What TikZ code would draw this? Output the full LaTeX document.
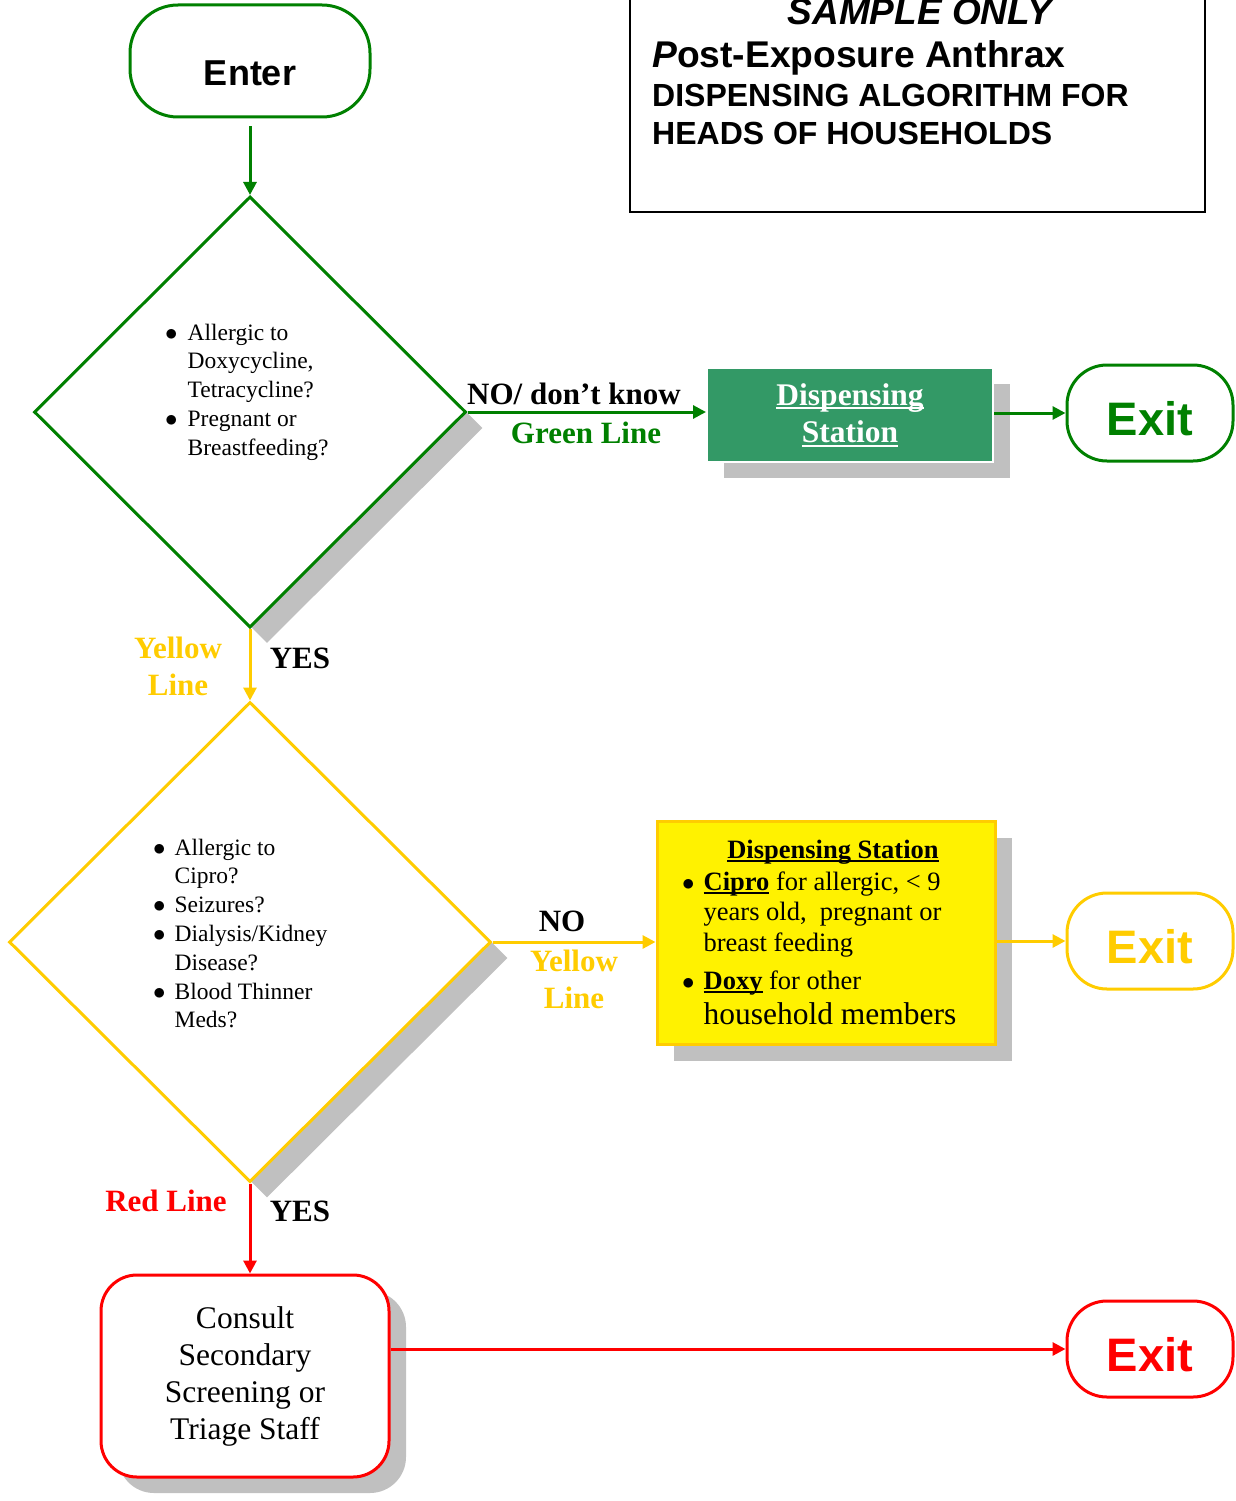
\documentclass[tikz,border=0pt]{standalone}
\usepackage{fontspec}
\setmainfont{Liberation Serif}
\setsansfont{Liberation Sans}
\usetikzlibrary{shapes.geometric,shadows,arrows.meta}

\definecolor{flowgreen}{RGB}{0,128,0}
\definecolor{flowyellow}{RGB}{255,204,0}
\definecolor{flowred}{RGB}{255,0,0}
\definecolor{stationgreen}{RGB}{51,153,102}
\definecolor{shadowgray}{RGB}{192,192,192}

% thick underline, big bullet
\newcommand{\thickul}[1]{\leavevmode\setbox0\hbox{#1}\rlap{\rule[-4pt]{\wd0}{2pt}}\box0\relax}
\newcommand{\bigbul}{$\bullet$}

\tikzset{
  greyshadow/.style={drop shadow={shadow xshift=17pt, shadow yshift=-16pt, fill=shadowgray, opacity=1}},
  flow/.style={line width=3pt, -{Triangle[length=13pt,width=13pt]}},
  question/.style={diamond, draw, line width=3pt, fill=white, inner sep=0pt, greyshadow},
  startbox/.style={draw=flowgreen, line width=3pt, fill=white, rounded corners=48pt,
    minimum width=240pt, minimum height=112pt, text height=50pt, text depth=0pt,
    font=\sffamily\bfseries\fontsize{36}{40}\selectfont},
  exitbox/.style={draw, line width=3pt, fill=white, rounded corners=40pt,
    minimum width=166pt, minimum height=96pt, text height=44pt, text depth=0pt,
    font=\sffamily\bfseries\fontsize{47}{50}\selectfont},
  qtext/.style={inner sep=0pt, anchor=base west, font=\fontsize{23.5}{28.8}\selectfont},
  lbl/.style={inner sep=0pt, align=center, font=\fontsize{31}{37}\selectfont\bfseries},
  titletext/.style={inner sep=0pt, anchor=base west, font=\sffamily\bfseries}
}

\begin{document}
\begin{tikzpicture}[x=1pt,y=-1pt]
\useasboundingbox (0,0) rectangle (1235,1501);

% title
\draw[line width=1.5pt] (630,-10) -- (630,212) -- (1205,212) -- (1205,-10);
\draw[line width=2.5pt] (630,212) -- (1205,212);
\node[titletext, anchor=base, font=\sffamily\bfseries\itshape\fontsize{37}{40}\selectfont] (sample) at (920,25) {SAMPLE ONLY};
\node[titletext, font=\sffamily\bfseries\fontsize{37.2}{40}\selectfont] (post) at (652,68) {\textit{P}ost-Exposure Anthrax};
\node[titletext, font=\sffamily\bfseries\fontsize{32}{36}\selectfont] (algo) at (652,107) {DISPENSING ALGORITHM FOR};
\node[titletext, font=\sffamily\bfseries\fontsize{32}{36}\selectfont] (heads) at (652,145) {HEADS OF HOUSEHOLDS};

% nodes
\node[startbox] (enter) at (250,61) {Enter};

\node[question, draw=flowgreen, minimum width=432pt, minimum height=431pt] (q1) at (250,412) {};
\node[qtext] (q1text) at (165,340) {\begin{tabular}[t]{@{}l@{\hspace{10pt}}l@{}}
\bigbul & Allergic to\\
 & Doxycycline,\\
 & Tetracycline?\\
\bigbul & Pregnant or\\
 & Breastfeeding?
\end{tabular}};

\node[draw=white, line width=2pt, fill=stationgreen, greyshadow, minimum width=286pt, minimum height=94pt,
  text=white, align=center, font=\fontsize{31.5}{37.5}\selectfont\bfseries] (station1) at (850,415)
  {\thickul{Dispensing}\\\thickul{Station}};
\node[exitbox, draw=flowgreen, text=flowgreen] (exit1) at (1150,413) {Exit};

\node[question, draw=flowyellow, minimum width=482pt, minimum height=480pt] (q2) at (250,942) {};
\node[qtext] (q2text) at (153,855) {\begin{tabular}[t]{@{}l@{\hspace{9pt}}l@{}}
\bigbul & Allergic to\\
 & Cipro?\\
\bigbul & Seizures?\\
\bigbul & Dialysis/Kidney\\
 & Disease?\\
\bigbul & Blood Thinner\\
 & Meds?
\end{tabular}};

\node[draw=flowyellow, line width=3pt, fill=yellow, greyshadow, minimum width=338pt, minimum height=223pt] (station2) at (826,933) {};
\node[inner sep=0pt, anchor=base, font=\fontsize{26.5}{30.5}\selectfont\bfseries] (s2head) at (833,858) {\thickul{Dispensing Station}};
\node[inner sep=0pt, anchor=base west, font=\fontsize{26.5}{30.5}\selectfont] (s2text) at (682,890) {\begin{tabular}[t]{@{}l@{\hspace{9pt}}l@{}}
\bigbul & \thickul{\textbf{Cipro}} for allergic, < 9\\
 & years old,\ \ pregnant or\\
 & breast feeding\\[7.5pt]
\bigbul & \thickul{\textbf{Doxy}} for other\\[4.5pt]
 & \fontsize{31.5}{30.5}\selectfont household members
\end{tabular}};
\node[exitbox, draw=flowyellow, text=flowyellow] (exit2) at (1150,941) {Exit};

\node[draw=flowred, line width=3pt, fill=white, rounded corners=36pt, greyshadow, minimum width=288pt, minimum height=202pt,
  align=center, font=\fontsize{31.5}{37}\selectfont] (consult) at (245,1376)
  {Consult\\Secondary\\Screening or\\Triage Staff};
\node[exitbox, draw=flowred, text=flowred] (exit3) at (1150,1349) {Exit};

% connectors
\draw[flow, flowgreen, shorten <=8pt] (enter) -- (q1);
\draw[flow, flowgreen] (q1.east) -- (q1.east -| station1.west);
\draw[flow, flowgreen] (exit1.west -| station1.east) -- (exit1.west);
\draw[flow, flowyellow] (q1.south) -- (q2.north);
\draw[flow, flowyellow] (q2.east) -- (q2.east -| station2.west);
\draw[flow, flowyellow] (exit2.west -| station2.east) -- (exit2.west);
\draw[flow, flowred] (q2.south) -- (q2.south |- consult.north);
\draw[flow, flowred] (exit3.west -| consult.east) -- (exit3.west);

% labels
\node[lbl, anchor=base] (nolbl) at (574,404) {NO/ don’t know};
\node[lbl, anchor=base, text=flowgreen] (greenlbl) at (586,443) {Green Line};
\node[lbl, text=flowyellow] (yellowlbl1) at (178,666) {Yellow\\Line};
\node[lbl, anchor=base] (yes1) at (300,668) {YES};
\node[lbl, anchor=base] (no2) at (562,931) {NO};
\node[lbl, text=flowyellow] (yellowlbl2) at (574,979) {Yellow\\Line};
\node[lbl, anchor=base, text=flowred] (redlbl) at (166,1211) {Red Line};
\node[lbl, anchor=base] (yes2) at (300,1221) {YES};
\end{tikzpicture}
\end{document}
